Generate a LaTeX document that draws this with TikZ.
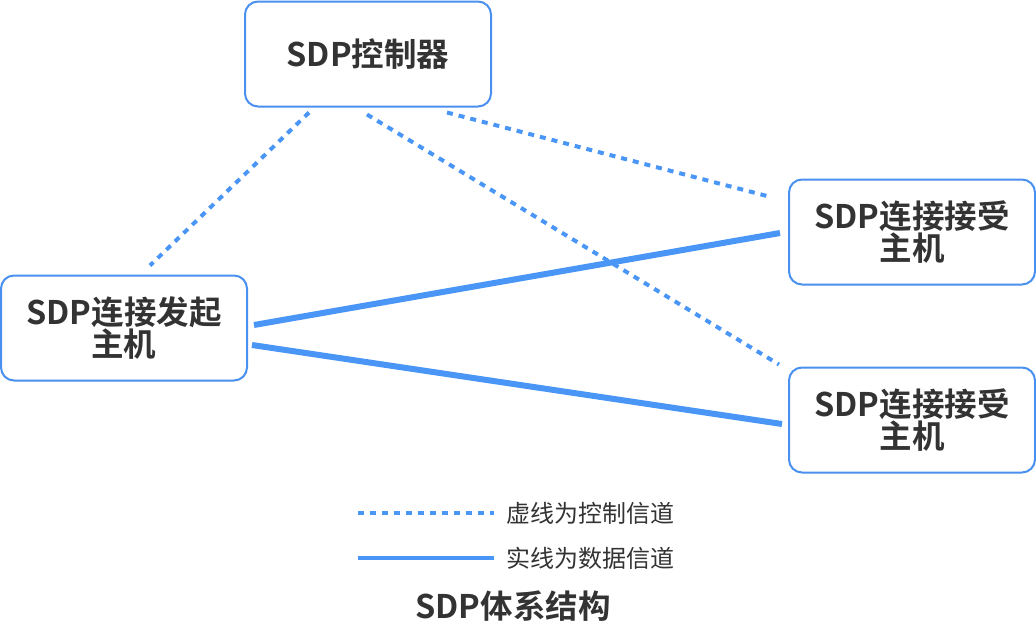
\documentclass[tikz,border=0pt]{standalone}
\usepackage{fontspec}
\setmainfont{Noto Sans CJK SC}[BoldFont={Noto Sans CJK SC Bold}]
\usetikzlibrary{calc}
\definecolor{lineblue}{HTML}{4A96F7}
\definecolor{boxblue}{HTML}{4A90EE}
\definecolor{txt}{HTML}{333333}
\tikzset{
  hostbox/.style={draw=boxblue, line width=2pt, rounded corners=13pt, minimum width=246pt, minimum height=105pt, align=center, font=\fontsize{32.5}{32.5}\selectfont\bfseries, text=txt, inner sep=0pt},
  ctrlline/.style={draw=lineblue, line width=4pt, dash pattern=on 6pt off 6pt},
  dataline/.style={draw=lineblue, line width=6pt},
  legline/.style={draw=lineblue, line width=4pt},
  legtext/.style={font=\fontsize{24}{26}\selectfont, text=txt, anchor=west, inner sep=0pt},
}
\begin{document}
\begin{tikzpicture}[x=1pt,y=-1pt]
\useasboundingbox[fill=white] (0,0) rectangle (1036,624);
\node[hostbox] (ctrl) at (368,54) {SDP控制器};
\node[hostbox] (init) at (124,328) {SDP连接发起\\主机};
\node[hostbox] (recv1) at (912,232) {SDP连接接受\\主机};
\node[hostbox] (recv2) at (912,420) {SDP连接接受\\主机};
% control channels
\coordinate (c1s) at ($(ctrl.south)+(-59,5)$);
\coordinate (c1e) at ($(init.north)+(26,-9)$);
\coordinate (c2s) at ($(ctrl.south)+(-1,7)$);
\coordinate (c2e) at ($(recv2.north west)+(-9,-2)$);
\coordinate (c3s) at ($(ctrl.south)+(79,5)$);
\coordinate (c3e) at ($(recv1.west)+(-21,-36)$);
\draw[ctrlline] (c1s) -- (c1e);
\draw[ctrlline] (c2s) -- (c2e);
\draw[ctrlline] (c3s) -- (c3e);
% data channels
\coordinate (d1s) at ($(init.east)+(6,-3)$);
\coordinate (d1e) at ($(recv1.west)+(-8,1)$);
\coordinate (d2s) at ($(init.east)+(4,17)$);
\coordinate (d2e) at ($(recv2.west)+(-6,4)$);
\draw[dataline] (d1s) -- (d1e);
\draw[dataline] (d2s) -- (d2e);
% legend
\coordinate (l1s) at (358,513);
\coordinate (l1e) at (494,513);
\coordinate (l2s) at (358,558);
\coordinate (l2e) at (494,558);
\draw[ctrlline] (l1s) -- (l1e);
\draw[legline] (l2s) -- (l2e);
\node[legtext] (leg1) at (506,513) {虚线为控制信道};
\node[legtext] (leg2) at (506,558) {实线为数据信道};
\node[font=\fontsize{32.5}{34}\selectfont\bfseries, text=txt, inner sep=0pt] (title) at (513,606) {SDP体系结构};
\end{tikzpicture}
\end{document}
